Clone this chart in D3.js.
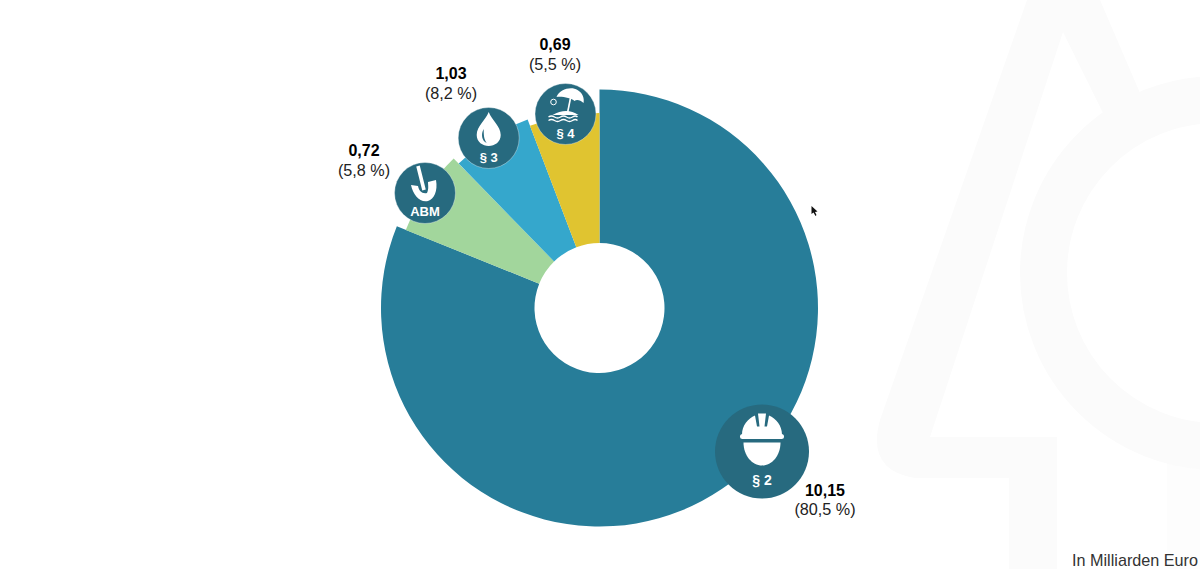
<!DOCTYPE html>
<html>
<head>
<meta charset="utf-8">
<script src="https://cdn.jsdelivr.net/npm/d3@7"></script>
<style>
html,body{margin:0;padding:0;background:#fff;overflow:hidden}
svg{display:block}
text{font-family:"Liberation Sans",Arial,sans-serif}
</style>
</head>
<body>
<svg id="chart" width="1200" height="569"></svg>
<script>
// Data
const categories = ["§ 2", "ABM", "§ 3", "§ 4"];
const amounts = ["10,15", "0,72", "1,03", "0,69"];
const shares = ["(80,5 %)", "(5,8 %)", "(8,2 %)", "(5,5 %)"];
// Slice sweep (percent of the circle) and relative reach
const sliceSweep = [81.1, 6.6, 6.5, 5.8];
const sliceReach = [1, 0.956, 0.923, 0.893];
const colors = ["#277D99", "#A2D69C", "#35A7CC", "#E0C430"];

const svg = d3.select("#chart");
const badgeColor = "#276A7F";

// Faint watermark
const wm = svg.append("g");
wm.append("rect").attr("x", 1167).attr("y", 455).attr("width", 33).attr("height", 114).attr("fill", "#fdfdfd");
wm.append("path").attr("fill", "#fbfbfb")
  .attr("d", "M1027,0 L880,420 Q866,470 915,478 L1009,478 L1009,569 L1057,569 L1057,437 L930,437 L1063,32 L1103,113 L1140,93 L1100,0 Z");
wm.append("circle").attr("cx", 1217).attr("cy", 273).attr("r", 173.5)
  .attr("fill", "none").attr("stroke", "#fbfbfb").attr("stroke-width", 47);

// Donut
const cx = 599.5, cy = 308;
const radial = d3.scaleLinear().domain([0, 1]).range([0, 218.5]);
const pie = d3.pie().sort(null).value(d => d.sweep);
const rows = categories.map((c, i) => ({c, sweep: sliceSweep[i], reach: sliceReach[i], color: colors[i]}));
const arc = d3.arc().innerRadius(65).outerRadius(d => radial(d.data.reach));
svg.append("g").attr("transform", `translate(${cx},${cy})`)
  .selectAll("path").data(pie(rows)).join("path")
  .attr("d", arc).attr("fill", d => d.data.color);

// Badges
const badgeLayout = [
  {x: 762, y: 451.5, r: 47, ty: 29.5, fs: 14, halo: 0},
  {x: 425, y: 193, r: 30.5, ty: 19.5, fs: 13, halo: 0.35},
  {x: 488.7, y: 138, r: 30.5, ty: 20.5, fs: 13, halo: 0.35},
  {x: 565.5, y: 114, r: 30.5, ty: 20.5, fs: 13, halo: 0.35}
];
const icons = [
  g => {
    g.append("path").attr("fill", "#fff").attr("d", "M-20,-17 C-20,-26 -14,-33 -7,-36 L-5,-25 L-2.5,-25 L-4,-38 L4,-38 L2.5,-25 L5,-25 L7,-36 C14,-33 20,-26 20,-17 Z");
    g.append("rect").attr("x", -22).attr("y", -17.5).attr("width", 44).attr("height", 5).attr("rx", 2.5).attr("fill", "#fff");
    g.append("path").attr("fill", "#fff").attr("d", "M-18.5,-9 L18.5,-9 C18.5,4 10,14 0,14 C-10,14 -18.5,4 -18.5,-9 Z");
  },
  g => {
    g.append("path").attr("stroke", "#fff").attr("stroke-width", 3.6).attr("d", "M-7,-27 L-1,-3");
    g.append("path").attr("fill", "#fff").attr("d", "M-14,-8 L-7,-7 C-6,-2 -3,1 2,0 C4,-4 3,-8 3,-11 L11,-13 C13,-2 9,6 3,8 C-5,10 -12,2 -14,-8 Z");
  },
  g => {
    g.append("path").attr("fill", "#fff").attr("d", "M0,-26 C3,-18 12,-12 12,-3 C12,4 6,8 0,8 C-6,8 -12,4 -12,-3 C-12,-12 -3,-18 0,-26 Z");
    g.append("path").attr("fill", badgeColor).attr("d", "M-5,-9 C-8,-4 -7,3 -2,5 C-5,1 -5,-4 -5,-9 Z");
  },
  g => {
    g.append("path").attr("fill", "#fff").attr("d", "M-9,-17 C-6,-25 6,-28 12,-24 C17,-21 19,-16 18,-11 C15,-14 11,-15 9,-13 C6,-16 -4,-18 -9,-17 Z");
    g.append("path").attr("stroke", "#fff").attr("stroke-width", 1.6).attr("d", "M5,-16 L2,-1");
    g.append("circle").attr("cx", -12).attr("cy", -12).attr("r", 2.8).attr("fill", "none").attr("stroke", "#fff").attr("stroke-width", 1);
    g.append("path").attr("fill", "#fff").attr("d", "M-13,1 Q1,-7 13,1 Z");
    [3, 6.5].forEach(y => g.append("path").attr("fill", "none").attr("stroke", "#fff").attr("stroke-width", 1.4)
      .attr("d", `M-17,${y} q3,-2 6,0 t6,0 t6,0 t6,0 t5,0`));
  }
];
categories.forEach((c, i) => {
  const b = badgeLayout[i];
  const g = svg.append("g").attr("transform", `translate(${b.x},${b.y})`);
  g.append("circle").attr("r", b.r).attr("fill", badgeColor)
    .attr("stroke", "#fff").attr("stroke-opacity", b.halo).attr("stroke-width", 1);
  icons[i](g);
  g.append("text").attr("y", b.ty).attr("text-anchor", "middle").attr("dominant-baseline", "middle")
    .attr("fill", "#fff").attr("font-weight", "bold").attr("font-size", b.fs).text(c);
});

// Value labels
const labelLayout = [[825, 495.5], [364, 156], [451, 79], [555, 50]];
categories.forEach((c, i) => {
  const [x, y] = labelLayout[i];
  svg.append("text").attr("x", x).attr("y", y).attr("text-anchor", "middle")
    .attr("font-size", 16).attr("font-weight", "bold").attr("fill", "#000").text(amounts[i]);
  svg.append("text").attr("x", x).attr("y", y + 19.5).attr("text-anchor", "middle")
    .attr("font-size", 16.2).attr("fill", "#222").text(shares[i]);
});

// Unit note
svg.append("text").attr("x", 1198).attr("y", 566).attr("text-anchor", "end")
  .attr("font-size", 16.2).attr("fill", "#333").text("In Milliarden Euro");

// Pointer seen in the screenshot
svg.append("path").attr("fill", "#111").attr("d", "M811.5,206 L811.5,214 L813.5,212.5 L815.5,216 L816.5,215 L815,212 L817.5,211.5 Z");
</script>
</body>
</html>
